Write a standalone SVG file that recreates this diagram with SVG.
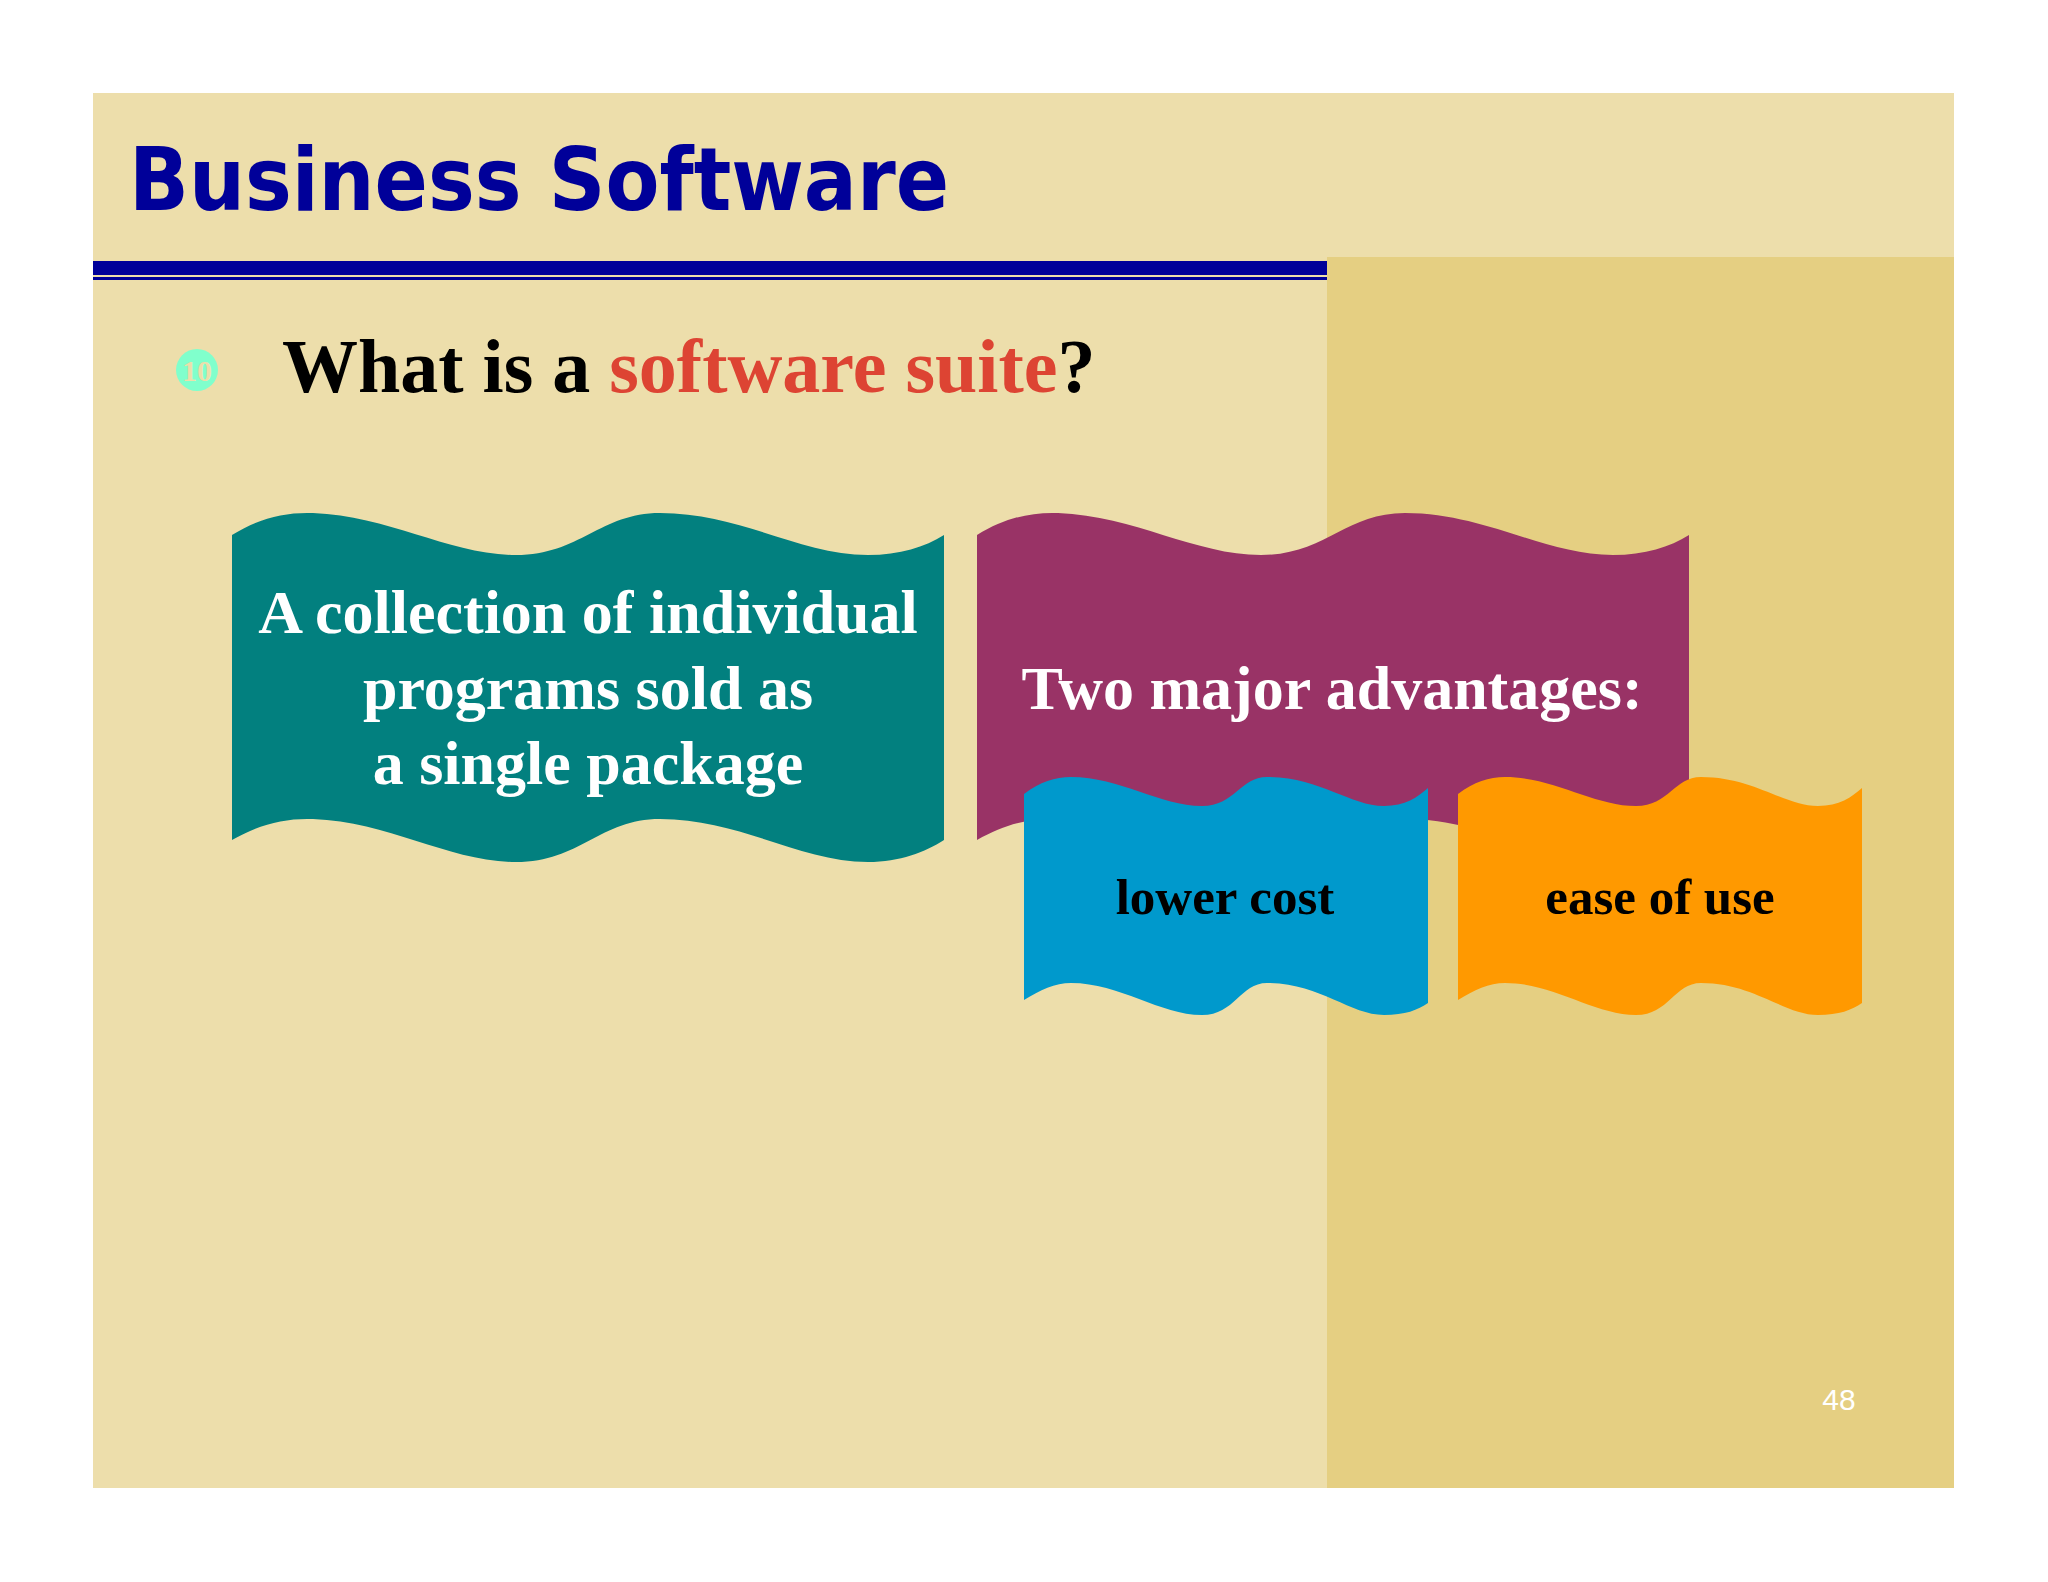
<svg xmlns="http://www.w3.org/2000/svg" width="2048" height="1582" viewBox="0 0 2048 1582">
<style>
.t{font-family:"Liberation Serif","Times New Roman",serif;font-weight:bold;text-anchor:middle}
.w{fill:#fff;font-size:62px}
.k{fill:#000;font-size:51px}
</style>
<rect width="2048" height="1582" fill="#fff"/>
<rect x="93" y="93" width="1861" height="1395" fill="#EDDEAB"/>
<rect x="1327" y="257" width="627" height="1231" fill="#E5CF82"/>
<rect x="93" y="261" width="1234" height="14" fill="#000099"/>
<rect x="93" y="277" width="1234" height="3" fill="#000099"/>
<text x="129" y="210" font-family="'DejaVu Sans',sans-serif" font-weight="bold" font-size="88" fill="#000099" textLength="820" lengthAdjust="spacingAndGlyphs">Business Software</text>
<g id="bullet"><circle cx="197" cy="370" r="21" fill="#80FFCC"/><text x="197" y="381" font-family="'Liberation Serif',serif" font-weight="bold" font-size="30" fill="#EDDEAB" text-anchor="middle">10</text></g>
<text x="282" y="392" font-family="'Liberation Serif','Times New Roman',serif" font-weight="bold" font-size="76" fill="#000">What is a <tspan fill="#DD4433">software suite</tspan>?</text>
<g id="teal">
<path d="M232,535 C260,518 285,512 313,513 C390,516 450,555 516,555 C580,555 600,513 660,513 C740,513 800,555 868,555 C900,555 925,547 944,535 L944,840 C925,852 900,862 868,862 C800,862 740,819 660,819 C600,819 580,862 516,862 C450,862 390,822 313,819 C285,818 260,824 232,840 Z" fill="#02807F"/>
<text class="t w" x="588" y="633">A collection of individual</text>
<text class="t w" x="588" y="709">programs sold as</text>
<text class="t w" x="588" y="784">a single package</text>
</g>
<g id="purple">
<path d="M977,535 C1005,518 1030,512 1058,513 C1135,516 1195,555 1261,555 C1325,555 1345,513 1405,513 C1485,513 1545,555 1613,555 C1645,555 1670,547 1689,535 L1689,840 C1670,852 1645,862 1613,862 C1545,862 1485,819 1405,819 C1345,819 1325,862 1261,862 C1195,862 1135,822 1058,819 C1030,818 1005,824 977,840 Z" fill="#993366"/>
<text class="t w" x="1332" y="709">Two major advantages:</text>
</g>
<g id="blue">
<path d="M1024,794 C1040,782 1055,777 1071,777 C1120,777 1160,806 1202,806 C1235,806 1240,777 1267,777 C1320,777 1350,806 1384,806 C1405,806 1418,797 1428,788 L1428,1003 C1418,1010 1405,1015 1384,1015 C1350,1015 1320,983 1267,983 C1240,983 1235,1015 1202,1015 C1160,1015 1120,983 1071,983 C1055,983 1040,990 1024,1000 Z" fill="#0099CC"/>
<text class="t k" x="1225" y="914">lower cost</text>
</g>
<g id="orange">
<path d="M1458,794 C1474,782 1489,777 1505,777 C1554,777 1594,806 1636,806 C1669,806 1674,777 1701,777 C1754,777 1784,806 1818,806 C1839,806 1852,797 1862,788 L1862,1003 C1852,1010 1839,1015 1818,1015 C1784,1015 1754,983 1701,983 C1674,983 1669,1015 1636,1015 C1594,1015 1554,983 1505,983 C1489,983 1474,990 1458,1000 Z" fill="#FF9900"/>
<text class="t k" x="1660" y="914">ease of use</text>
</g>
<text x="1839" y="1410" font-family="'Liberation Sans',sans-serif" font-size="30" fill="#fff" text-anchor="middle">48</text>
</svg>
